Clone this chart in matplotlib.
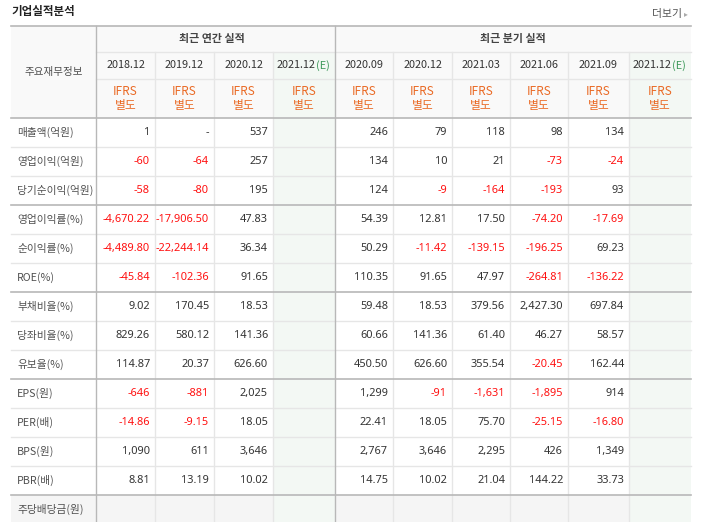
import matplotlib
matplotlib.use('Agg')
import matplotlib.pyplot as plt
from matplotlib.patches import Rectangle

plt.rcParams['font.family'] = ['Noto Sans CJK KR', 'DejaVu Sans']

# ---- data ----
title = '기업실적분석'
more_label = '더보기'
corner_label = '주요재무정보'
group_labels = ['최근 연간 실적', '최근 분기 실적']
annual_periods = ['2018.12', '2019.12', '2020.12', '2021.12']
quarter_periods = ['2020.09', '2020.12', '2021.03', '2021.06', '2021.09', '2021.12']
estimate_flags_annual = [False, False, False, True]
estimate_flags_quarter = [False, False, False, False, False, True]
basis_label = 'IFRS\n별도'

row_labels = ['매출액(억원)', '영업이익(억원)', '당기순이익(억원)',
              '영업이익률(%)', '순이익률(%)', 'ROE(%)',
              '부채비율(%)', '당좌비율(%)', '유보율(%)',
              'EPS(원)', 'PER(배)', 'BPS(원)', 'PBR(배)', '주당배당금(원)']

annual_values = [
    ['1', '-', '537', ''],
    ['-60', '-64', '257', ''],
    ['-58', '-80', '195', ''],
    ['-4,670.22', '-17,906.50', '47.83', ''],
    ['-4,489.80', '-22,244.14', '36.34', ''],
    ['-45.84', '-102.36', '91.65', ''],
    ['9.02', '170.45', '18.53', ''],
    ['829.26', '580.12', '141.36', ''],
    ['114.87', '20.37', '626.60', ''],
    ['-646', '-881', '2,025', ''],
    ['-14.86', '-9.15', '18.05', ''],
    ['1,090', '611', '3,646', ''],
    ['8.81', '13.19', '10.02', ''],
    ['', '', '', ''],
]
quarter_values = [
    ['246', '79', '118', '98', '134', ''],
    ['134', '10', '21', '-73', '-24', ''],
    ['124', '-9', '-164', '-193', '93', ''],
    ['54.39', '12.81', '17.50', '-74.20', '-17.69', ''],
    ['50.29', '-11.42', '-139.15', '-196.25', '69.23', ''],
    ['110.35', '91.65', '47.97', '-264.81', '-136.22', ''],
    ['59.48', '18.53', '379.56', '2,427.30', '697.84', ''],
    ['60.66', '141.36', '61.40', '46.27', '58.57', ''],
    ['450.50', '626.60', '355.54', '-20.45', '162.44', ''],
    ['1,299', '-91', '-1,631', '-1,895', '914', ''],
    ['22.41', '18.05', '75.70', '-25.15', '-16.80', ''],
    ['2,767', '3,646', '2,295', '426', '1,349', ''],
    ['14.75', '10.02', '21.04', '144.22', '33.73', ''],
    ['', '', '', '', '', ''],
]
group_breaks = [3, 6, 9, 13]  # thick line above these row indices

# ---- layout (pixels) ----
W, H = 703, 522
col_edges = [11, 96, 155, 214, 273, 335, 393, 452, 510, 568, 629, 691]
y_top, y_h1, y_h2, y_data = 26, 52, 79, 118
row_h = 29

TEXT = '#333333'
LABEL = '#505050'
RED = '#ff1010'
ORANGE = '#ea6a25'
GREEN = '#3f9a5c'
HEAD_BG = '#f9f9f9'
EST_BG = '#f3f8f4'
LAST_BG = '#f5f5f5'
THIN = '#e6e6e6'
THICK = '#b8b8b8'
NUM_FONT = ['Noto Sans', 'DejaVu Sans']

fig = plt.figure(figsize=(W / 100, H / 100), dpi=100)
ax = fig.add_axes([0, 0, 1, 1])
ax.set_xlim(0, W)
ax.set_ylim(H, 0)
ax.axis('off')

periods = annual_periods + quarter_periods
est_flags = estimate_flags_annual + estimate_flags_quarter
n_rows = len(row_labels)
y_bottom = y_data + row_h * n_rows

# backgrounds
ax.add_patch(Rectangle((col_edges[0], y_top), col_edges[-1] - col_edges[0], y_data - y_top,
                       facecolor=HEAD_BG, edgecolor='none', zorder=0))
last_y = y_data + row_h * (n_rows - 1)
ax.add_patch(Rectangle((col_edges[0], last_y), col_edges[-1] - col_edges[0], row_h,
                       facecolor=LAST_BG, edgecolor='none', zorder=0))
for j, est in enumerate(est_flags):
    if est:
        x0, x1 = col_edges[j + 1], col_edges[j + 2]
        ax.add_patch(Rectangle((x0, y_h1), x1 - x0, y_bottom - y_h1,
                               facecolor=EST_BG, edgecolor='none', zorder=0.5))

# horizontal lines
ax.plot([col_edges[0], col_edges[-1]], [y_top, y_top], color=THICK, lw=1.2, zorder=2)
ax.plot([col_edges[1], col_edges[-1]], [y_h1, y_h1], color=THIN, lw=1, zorder=1)
ax.plot([col_edges[1], col_edges[-1]], [y_h2, y_h2], color=THIN, lw=1, zorder=1)
ax.plot([col_edges[0], col_edges[-1]], [y_data, y_data], color=THICK, lw=1.2, zorder=2)
for i in range(1, n_rows):
    y = y_data + row_h * i
    if i in group_breaks:
        ax.plot([col_edges[0], col_edges[-1]], [y, y], color=THICK, lw=1.2, zorder=2)
    else:
        ax.plot([col_edges[0], col_edges[-1]], [y, y], color=THIN, lw=1, zorder=1)

# vertical lines
for k, x in enumerate(col_edges[1:-1], start=1):
    if k in (1, 5):
        ax.plot([x, x], [y_top, y_bottom], color=THICK, lw=1, zorder=2)
    else:
        ax.plot([x, x], [y_h1, y_bottom], color=THIN, lw=1, zorder=1)

# title and more link
ax.text(11, 12, title, fontsize=8.3, fontweight='bold', color='#222222', va='center', ha='left')
ax.text(682, 14, more_label, fontsize=7.8, color='#555555', va='center', ha='right')
ax.text(684, 14, '▸', fontsize=5.5, color='#aaaaaa', va='center', ha='left', family='DejaVu Sans')

# header
ax.text((col_edges[0] + col_edges[1]) / 2, (y_top + y_data) / 2, corner_label,
        fontsize=7.6, color=LABEL, ha='center', va='center')
ax.text((col_edges[1] + col_edges[5]) / 2 - 4, (y_top + y_h1) / 2, group_labels[0],
        fontsize=7.9, color='#444444', fontweight='bold', ha='center', va='center')
ax.text((col_edges[5] + col_edges[-1]) / 2, (y_top + y_h1) / 2, group_labels[1],
        fontsize=7.9, color='#444444', fontweight='bold', ha='center', va='center')

fig.canvas.draw()
renderer = fig.canvas.get_renderer()
inv = ax.transData.inverted()

for j, (p, est) in enumerate(zip(periods, est_flags)):
    x0, x1 = col_edges[j + 1], col_edges[j + 2]
    xc = (x0 + x1) / 2
    yc = (y_h1 + y_h2) / 2
    if est:
        t = ax.text(x0 + 4, yc, p, fontsize=7.8, color=TEXT, ha='left', va='center')
        bb = t.get_window_extent(renderer)
        x_end = inv.transform((bb.x1, bb.y0))[0]
        ax.text(x_end + 0.5, yc, '(E)', fontsize=7.8, color=GREEN, ha='left', va='center')
    else:
        ax.text(xc, yc, p, fontsize=7.8, color=TEXT, ha='center', va='center')
    ax.text(xc, (y_h2 + y_data) / 2, basis_label, fontsize=8.5, color=ORANGE,
            ha='center', va='center', linespacing=1.05)

# body
for i, label in enumerate(row_labels):
    yc = y_data + row_h * i + row_h / 2
    ax.text(col_edges[0] + 6, yc, label, fontsize=7.7, color=LABEL, ha='left', va='center')
    vals = annual_values[i] + quarter_values[i]
    for j, v in enumerate(vals):
        if not v:
            continue
        color = RED if v.startswith('-') and len(v) > 1 else TEXT
        ax.text(col_edges[j + 2] - 5, yc, v, fontsize=7.9, color=color,
                ha='right', va='center', family=NUM_FONT)

fig.savefig('out.png', dpi=100)
